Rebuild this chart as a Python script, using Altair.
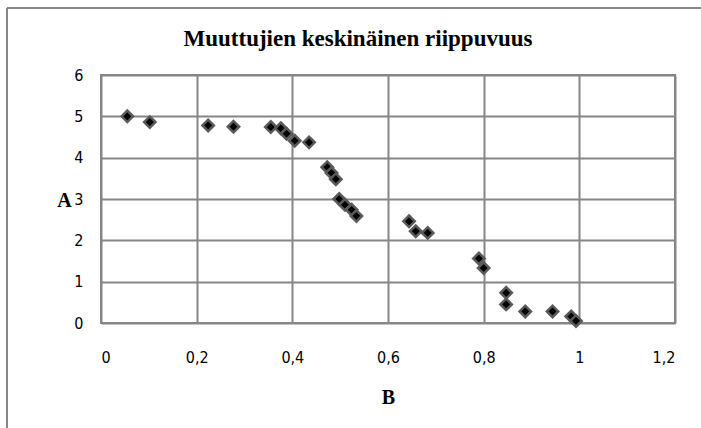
import altair as alt
import pandas as pd

# Data
B_values = [0.055, 0.102, 0.224, 0.277, 0.355, 0.376, 0.388, 0.405, 0.435,
            0.473, 0.482, 0.491, 0.498, 0.510, 0.524, 0.534,
            0.644, 0.658, 0.683, 0.790, 0.800, 0.847, 0.847, 0.887,
            0.944, 0.983, 0.993]
A_values = [5.00, 4.86, 4.78, 4.75, 4.74, 4.71, 4.58, 4.41, 4.37,
            3.77, 3.63, 3.48, 3.00, 2.86, 2.74, 2.59,
            2.46, 2.22, 2.18, 1.56, 1.33, 0.73, 0.45, 0.28,
            0.28, 0.16, 0.05]
x_ticks = [0, 0.2, 0.4, 0.6, 0.8, 1.0, 1.2]
y_ticks = [0, 1, 2, 3, 4, 5, 6]
title_text = "Muuttujien keskinäinen riippuvuus"

df = pd.DataFrame({"B": B_values, "A": A_values})

W, H = 574, 248
PAD_L, PAD_T = 101, 75
GRID = "#868686"
LABEL_FONT = "Liberation Sans Narrow, DejaVu Sans Condensed, Open Sans, sans-serif"
SERIF = "Liberation Serif, Times New Roman, serif"

points = alt.Chart(df).mark_point(
    shape="diamond", filled=True, fill="black", stroke="#5a5a5a",
    strokeWidth=2.5, size=130, opacity=1
).encode(
    x=alt.X("B:Q", scale=alt.Scale(domain=[0, 1.2], nice=False),
            axis=alt.Axis(values=x_ticks, title="B", grid=True,
                          labelExpr="replace(format(datum.value, '~g'), '.', ',')",
                          labelPadding=26, titleY=74, titleBaseline="middle")),
    y=alt.Y("A:Q", scale=alt.Scale(domain=[0, 6], nice=False),
            axis=alt.Axis(values=y_ticks, title="A", grid=True,
                          labelPadding=18, titleAngle=0, titleX=-37, titleY=125,
                          titleAlign="center", titleBaseline="middle")),
)

# Outer chart frame (decoration, left and top edges)
frame_top = alt.Chart(df).mark_rule(color=GRID, strokeWidth=2).encode(
    x=alt.value(7 - PAD_L), x2=alt.value(701 - PAD_L), y=alt.value(8 - PAD_T)
)
frame_left = alt.Chart(df).mark_rule(color=GRID, strokeWidth=2).encode(
    x=alt.value(7 - PAD_L), y=alt.value(8 - PAD_T), y2=alt.value(428 - PAD_T)
)

chart = alt.layer(frame_top, frame_left, points).properties(
    width=W, height=H,
    background="white",
    title=alt.TitleParams(title_text, font=SERIF, fontSize=23, fontWeight="bold",
                          anchor="middle", offset=0, dy=44, dx=-30, color="black"),
    autosize=alt.AutoSizeParams(type="none"),
    padding={"left": PAD_L, "top": PAD_T, "right": 701 - PAD_L - W, "bottom": 428 - PAD_T - H},
).configure_view(
    stroke=GRID, strokeWidth=2
).configure_axis(
    domain=False, ticks=False, gridColor=GRID, gridWidth=2, gridOpacity=1,
    labelFont=LABEL_FONT, labelFontSize=16, labelColor="black",
    titleFont=SERIF, titleFontSize=20, titleFontWeight="bold", titleColor="black"
)

chart.save("out.html", embed_options={"renderer": "svg", "actions": False})
